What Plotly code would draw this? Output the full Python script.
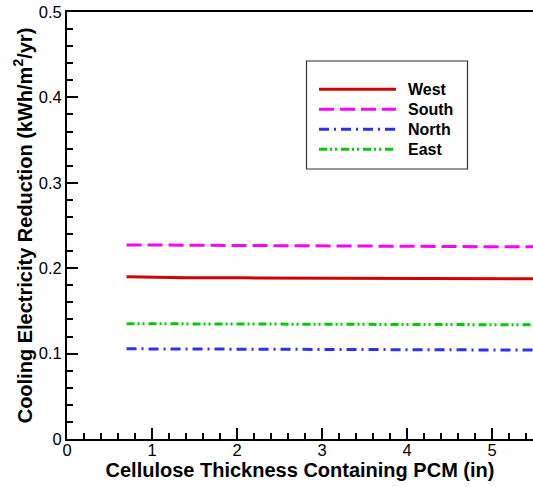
import plotly.graph_objects as go

# thickness of cellulose layer containing PCM (in)
thickness = [0.7, 1.4, 2.1, 2.8, 3.5, 4.2, 4.9, 5.6]

west = [0.1900, 0.1888, 0.1887, 0.1885, 0.1882, 0.1879, 0.1877, 0.1876]
south = [0.2273, 0.2268, 0.2265, 0.2262, 0.2260, 0.2256, 0.2252, 0.2250]
north = [0.1056, 0.1053, 0.1050, 0.1048, 0.1046, 0.1044, 0.1042, 0.1041]
east = [0.1350, 0.1348, 0.1346, 0.1344, 0.1342, 0.1340, 0.1338, 0.1337]

series_names = ["West", "South", "North", "East"]
series_values = [west, south, north, east]

FONT = "Liberation Sans, Arial, Helvetica, sans-serif"
W, H = 533, 487
M_L, M_R, M_T, M_B = 67, 0, 12, 48

styles = {
    "West": dict(color="#d40000", dash="solid"),
    "South": dict(color="#ff00ff", dash="15px,6px"),
    "North": dict(color="#2e2eff", dash="10px,5px,2px,5px"),
    "East": dict(color="#00cc00", dash="8px,3px,2px,3px,2px,4px"),
}


def px_x(p):
    return (p - M_L) / (W - M_L - M_R)


def px_y(p):
    return (H - M_B - p) / (H - M_T - M_B)


fig = go.Figure()
for name, vals in zip(series_names, series_values):
    st = styles[name]
    fig.add_trace(go.Scatter(
        x=thickness, y=vals, mode="lines", name=name, showlegend=False,
        line=dict(color=st["color"], dash=st["dash"], width=3),
    ))

# hand-drawn legend box (Tecplot style, long line samples)
fig.add_shape(type="rect", xref="paper", yref="paper",
              x0=px_x(306.5), x1=px_x(467.5), y0=px_y(169), y1=px_y(61),
              line=dict(color="#333333", width=1.2), fillcolor="white")
for i, name in enumerate(series_names):
    st = styles[name]
    yy = px_y(89.3 + 20 * i)
    fig.add_shape(type="line", xref="paper", yref="paper",
                  x0=px_x(319), x1=px_x(396), y0=yy, y1=yy,
                  line=dict(color=st["color"], dash=st["dash"], width=3))
    fig.add_annotation(text=f"<b>{name}</b>", xref="paper", yref="paper",
                       x=px_x(406), y=yy, xanchor="left", yanchor="middle",
                       showarrow=False, font=dict(size=16, color="black", family=FONT))

fig.update_xaxes(
    range=[0, 5.48], dtick=1, tick0=0,
    showline=True, linecolor="black", linewidth=2, mirror=True,
    ticks="inside", ticklen=11, tickwidth=2, tickcolor="black",
    minor=dict(dtick=0.2, ticks="inside", ticklen=6, tickwidth=1.5, tickcolor="black"),
    showgrid=False, zeroline=False,
    tickfont=dict(size=16.5, color="black", family=FONT),
    ticklabelstandoff=-5,
    title=dict(text="<b>Cellulose Thickness Containing PCM (in)</b>",
               font=dict(size=20, color="black", family=FONT), standoff=0),
)
fig.update_yaxes(
    range=[0, 0.5], dtick=0.1, tick0=0,
    showline=True, linecolor="black", linewidth=2,
    ticks="inside", ticklen=11, tickwidth=2, tickcolor="black",
    minor=dict(dtick=0.02, ticks="inside", ticklen=6, tickwidth=1.5, tickcolor="black"),
    showgrid=False, zeroline=False,
    tickfont=dict(size=16.5, color="black", family=FONT),
    title=dict(text="<b>Cooling Electricity Reduction (kWh/m<sup>2</sup>/yr)</b>",
               font=dict(size=20, color="black", family=FONT), standoff=1),
)

fig.update_layout(
    width=W, height=H,
    margin=dict(l=M_L, r=M_R, t=M_T, b=M_B, autoexpand=False),
    paper_bgcolor="white", plot_bgcolor="white",
    font=dict(family=FONT, color="black"),
)

fig.write_html("out.html", config={"displayModeBar": False},
               post_script="document.body.style.margin='0';")
